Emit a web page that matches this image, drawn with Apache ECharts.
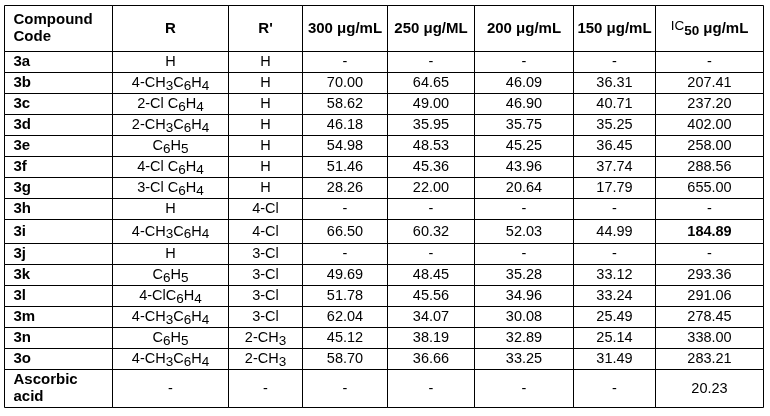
<!DOCTYPE html>
<html><head><meta charset="utf-8">
<script src="https://cdn.jsdelivr.net/npm/echarts@6/dist/echarts.min.js"></script>
<style>html,body{margin:0;padding:0;background:#fff}#c{width:770px;height:416px}</style>
</head><body><div id="c"></div>
<script>
// ---- data ----
const headers = ['Compound\nCode', 'R', "R'", '300 μg/mL', '250 μg/ML', '200 μg/mL', '150 μg/mL', 'IC50 μg/mL'];
const codes = ['3a','3b','3c','3d','3e','3f','3g','3h','3i','3j','3k','3l','3m','3n','3o','Ascorbic\nacid'];
const rGroup = ['H','4-CH3C6H4','2-Cl C6H4','2-CH3C6H4','C6H5','4-Cl C6H4','3-Cl C6H4','H','4-CH3C6H4','H','C6H5','4-ClC6H4','4-CH3C6H4','C6H5','4-CH3C6H4','-'];
const rPrime = ['H','H','H','H','H','H','H','4-Cl','4-Cl','3-Cl','3-Cl','3-Cl','3-Cl','2-CH3','2-CH3','-'];
const conc300 = [null,70.00,58.62,46.18,54.98,51.46,28.26,null,66.50,null,49.69,51.78,62.04,45.12,58.70,null];
const conc250 = [null,64.65,49.00,35.95,48.53,45.36,22.00,null,60.32,null,48.45,45.56,34.07,38.19,36.66,null];
const conc200 = [null,46.09,46.90,35.75,45.25,43.96,20.64,null,52.03,null,35.28,34.96,30.08,32.89,33.25,null];
const conc150 = [null,36.31,40.71,35.25,36.45,37.74,17.79,null,44.99,null,33.12,33.24,25.49,25.14,31.49,null];
const ic50 = [null,207.41,237.20,402.00,258.00,288.56,655.00,null,184.89,null,293.36,291.06,278.45,338.00,283.21,20.23];
const boldIc50Row = 8; // 3i highlighted

// ---- layout (not data) ----
const colEdges = [0,108,224,298,383,470,569,651,759];
const rowHeights = [46,21,21,21,21,21,21,21,21,24,21,21,21,21,21,21,38];
const rowEdges = [0];
rowHeights.forEach(h => rowEdges.push(rowEdges[rowEdges.length-1] + h));

const FONT = '"Liberation Sans", Arial, Helvetica, sans-serif';
const FS = 14.5;
const HS = 15;
const rich = {
  n: {fontFamily: FONT, fontSize: FS, lineHeight: 17, color: '#000'},
  s: {fontFamily: FONT, fontSize: 13.5, lineHeight: 13, padding: [6,0,0,0], color: '#000'},
  b: {fontFamily: FONT, fontSize: FS, fontWeight: 'bold', lineHeight: 17, color: '#000'},
  h: {fontFamily: FONT, fontSize: HS, fontWeight: 'bold', lineHeight: 17, color: '#000'},
  ic: {fontFamily: FONT, fontSize: 13.5, lineHeight: 13, padding: [0,0,4,0], color: '#000'},
  hs: {fontFamily: FONT, fontSize: 13.5, fontWeight: 'bold', lineHeight: 13, padding: [5,0,0,0], color: '#000'}
};

function formula(s) {
  // digits following a letter become subscripts
  const parts = [];
  const re = /([A-Za-z])(\d+)/g;
  let last = 0, m;
  while ((m = re.exec(s)) !== null) {
    const pre = s.slice(last, m.index + 1);
    if (pre) parts.push('{n|' + pre + '}');
    parts.push('{s|' + m[2] + '}');
    last = m.index + m[0].length;
  }
  if (last < s.length) parts.push('{n|' + s.slice(last) + '}');
  return parts.join('');
}
function num(v) { return v === null ? '-' : v.toFixed(2); }

function cellContent(c, r) {
  if (r === 0) {
    if (c === 0) return {text: headers[0].split('\n').map(t => '{h|' + t + '}').join('\n'), left: true};
    if (c === 7) return {text: '{ic|IC}{hs|50}{h| μg/mL}', left: false};
    return {text: '{h|' + headers[c] + '}', left: false};
  }
  const i = r - 1;
  switch (c) {
    case 0: return {text: codes[i].split('\n').map(t => '{h|' + t + '}').join('\n'), left: true};
    case 1: return {text: formula(rGroup[i]), left: false};
    case 2: return {text: formula(rPrime[i]), left: false};
    case 3: return {text: '{n|' + num(conc300[i]) + '}', left: false};
    case 4: return {text: '{n|' + num(conc250[i]) + '}', left: false};
    case 5: return {text: '{n|' + num(conc200[i]) + '}', left: false};
    case 6: return {text: '{n|' + num(conc150[i]) + '}', left: false};
    case 7: return {text: (i === boldIc50Row ? '{b|' : '{n|') + num(ic50[i]) + '}', left: false};
  }
}

const cells = [];
for (let r = 0; r <= codes.length; r++) for (let c = 0; c < headers.length; c++) cells.push([c, r]);

function renderItem(params, api) {
  const c = api.value(0), r = api.value(1);
  const p0 = api.coord([colEdges[c], rowEdges[r]]);
  const p1 = api.coord([colEdges[c+1], rowEdges[r+1]]);
  const x0 = Math.round(p0[0]) + 0.5, y0 = Math.round(p0[1]) + 0.5;
  const x1 = Math.round(p1[0]) + 0.5, y1 = Math.round(p1[1]) + 0.5;
  const cell = cellContent(c, r);
  return {
    type: 'group',
    children: [
      {type: 'rect', shape: {x: x0, y: y0, width: x1 - x0, height: y1 - y0},
       style: {fill: null, stroke: '#000', lineWidth: 1}},
      {type: 'text', style: {
        text: cell.text, rich: rich,
        x: cell.left ? x0 + 9 : (x0 + x1) / 2, y: (y0 + y1) / 2,
        align: cell.left ? 'left' : 'center', verticalAlign: 'middle',
        fontFamily: FONT, fontSize: FS, fill: '#000'
      }}
    ]
  };
}

const chart = echarts.init(document.getElementById('c'), null, {renderer: 'canvas'});
chart.setOption({
  animation: false,
  backgroundColor: '#fff',
  grid: {left: 4, right: 7, top: 5, bottom: 9},
  xAxis: {type: 'value', min: 0, max: colEdges[colEdges.length-1], show: false},
  yAxis: {type: 'value', min: 0, max: rowEdges[rowEdges.length-1], inverse: true, show: false},
  series: [{
    type: 'custom', silent: true, clip: false,
    encode: {x: 0, y: 1},
    data: cells,
    renderItem: renderItem
  }]
});
</script>
</body></html>
